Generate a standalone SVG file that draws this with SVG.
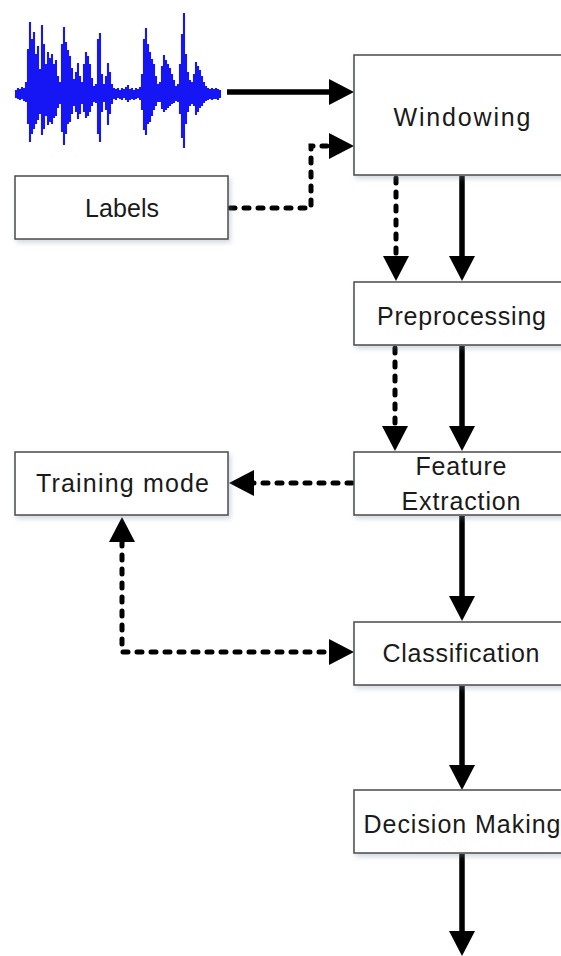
<svg xmlns="http://www.w3.org/2000/svg" width="561" height="956" viewBox="0 0 561 956">
<style>
.box{fill:#fff;stroke:#4a4a4a;stroke-width:1.5;filter:url(#sh)}
.t{font-family:"Liberation Sans",Arial,sans-serif;font-size:25px;fill:#1a1a1a;text-anchor:middle}
.solid{fill:none;stroke:#000;stroke-width:5.5;marker-end:url(#ah)}
.dash{fill:none;stroke:#000;stroke-width:5;stroke-dasharray:5 9;stroke-linecap:round;marker-end:url(#ah)}
</style>
<defs>
<filter id="sh" x="-10%" y="-20%" width="130%" height="150%">
<feDropShadow dx="2" dy="3" stdDeviation="2.5" flood-color="#8090a8" flood-opacity="0.35"/>
</filter>
<filter id="blur" x="-5%" y="-5%" width="110%" height="110%"><feGaussianBlur stdDeviation="0.7"/></filter>
<marker id="ah" markerUnits="userSpaceOnUse" markerWidth="26" markerHeight="26" viewBox="0 0 26 26" refX="1" refY="13" orient="auto-start-reverse">
<path d="M0,0L25,13L0,26z" fill="#000"/>
</marker>
</defs>
<rect width="561" height="956" fill="#fff"/>

<g id="waveform" filter="url(#blur)">
<path fill="none" stroke="#1414f5" stroke-width="2.1" d="M16,90V98M18,88V99M20,89V100M22,87V99M24,88V101M26,82V102M28,49V124M30,22V142M32,39V134M34,32V129M36,54V124M38,46V120M40,69V114M42,25V135M44,44V129M46,64V116M48,52V125M50,58V122M52,54V124M54,64V118M56,60V116M58,76V108M60,82V104M62,44V132M64,27V145M66,42V134M68,50V124M70,56V122M72,68V114M74,79V106M76,72V112M78,63V119M80,76V114M82,82V104M84,64V112M86,52V118M88,56V116M90,64V112M92,78V106M94,86V102M96,84V103M98,39V134M100,33V142M102,74V112M104,84V102M106,76V110M108,63V125M110,72V114M112,84V104M114,88V99M116,89V100M118,88V98M120,90V99M122,88V100M124,89V98M126,87V100M128,85V102M130,89V100M132,88V99M134,90V100M136,88V99M138,89V98M140,87V100M142,74V110M144,39V130M146,28V135M148,44V124M150,52V122M152,59V116M154,64V110M156,76V106M158,84V102M160,82V102M162,66V109M164,55V112M166,60V110M168,64V108M170,68V106M172,74V104M174,80V103M176,86V101M178,84V102M180,64V114M182,34V138M184,13V148M186,54V124M188,72V112M190,80V106M192,82V104M194,74V106M196,62V115M198,66V112M200,70V108M202,76V106M204,82V103M206,86V101M208,88V100M210,89V99M212,88V100M214,89V99M216,88V99M218,89V100M220,90V98"/>
</g>

<g id="connectors">
<path class="solid" d="M227,92H330"/>
<path class="dash" d="M230,208H311V146H330"/>
<path class="dash" d="M396,178V257"/>
<path class="solid" d="M462,176V257"/>
<path class="dash" d="M395,348V427"/>
<path class="solid" d="M462,346V427"/>
<path class="dash" d="M352,483H253"/>
<path class="solid" d="M462,516V597"/>
<path class="dash" style="marker-start:url(#ah)" d="M122,541V652H330"/>
<path class="solid" d="M462,686V766"/>
<path class="solid" d="M462,854V932"/>
</g>

<g id="windowing">
<rect class="box" x="354" y="55" width="216" height="120"/>
<text class="t" x="462" y="126" textLength="137" lengthAdjust="spacing">Windowing</text>
</g>
<g id="labels">
<rect class="box" x="15" y="176" width="213" height="63"/>
<text class="t" x="122" y="217" textLength="74" lengthAdjust="spacing">Labels</text>
</g>
<g id="preprocessing">
<rect class="box" x="354" y="282" width="216" height="63"/>
<text class="t" x="461.5" y="325" textLength="169" lengthAdjust="spacing">Preprocessing</text>
</g>
<g id="feature-extraction">
<rect class="box" x="354" y="452" width="216" height="63"/>
<text class="t" x="461" y="475" textLength="91" lengthAdjust="spacing">Feature</text>
<text class="t" x="461" y="510" textLength="119" lengthAdjust="spacing">Extraction</text>
</g>
<g id="training-mode">
<rect class="box" x="15" y="452" width="213" height="63"/>
<text class="t" x="122.5" y="492" textLength="173" lengthAdjust="spacing">Training mode</text>
</g>
<g id="classification">
<rect class="box" x="354" y="622" width="216" height="63"/>
<text class="t" x="461" y="662" textLength="157" lengthAdjust="spacing">Classification</text>
</g>
<g id="decision-making">
<rect class="box" x="354" y="790" width="216" height="63"/>
<text class="t" x="462" y="833" textLength="197" lengthAdjust="spacing">Decision Making</text>
</g>
</svg>
